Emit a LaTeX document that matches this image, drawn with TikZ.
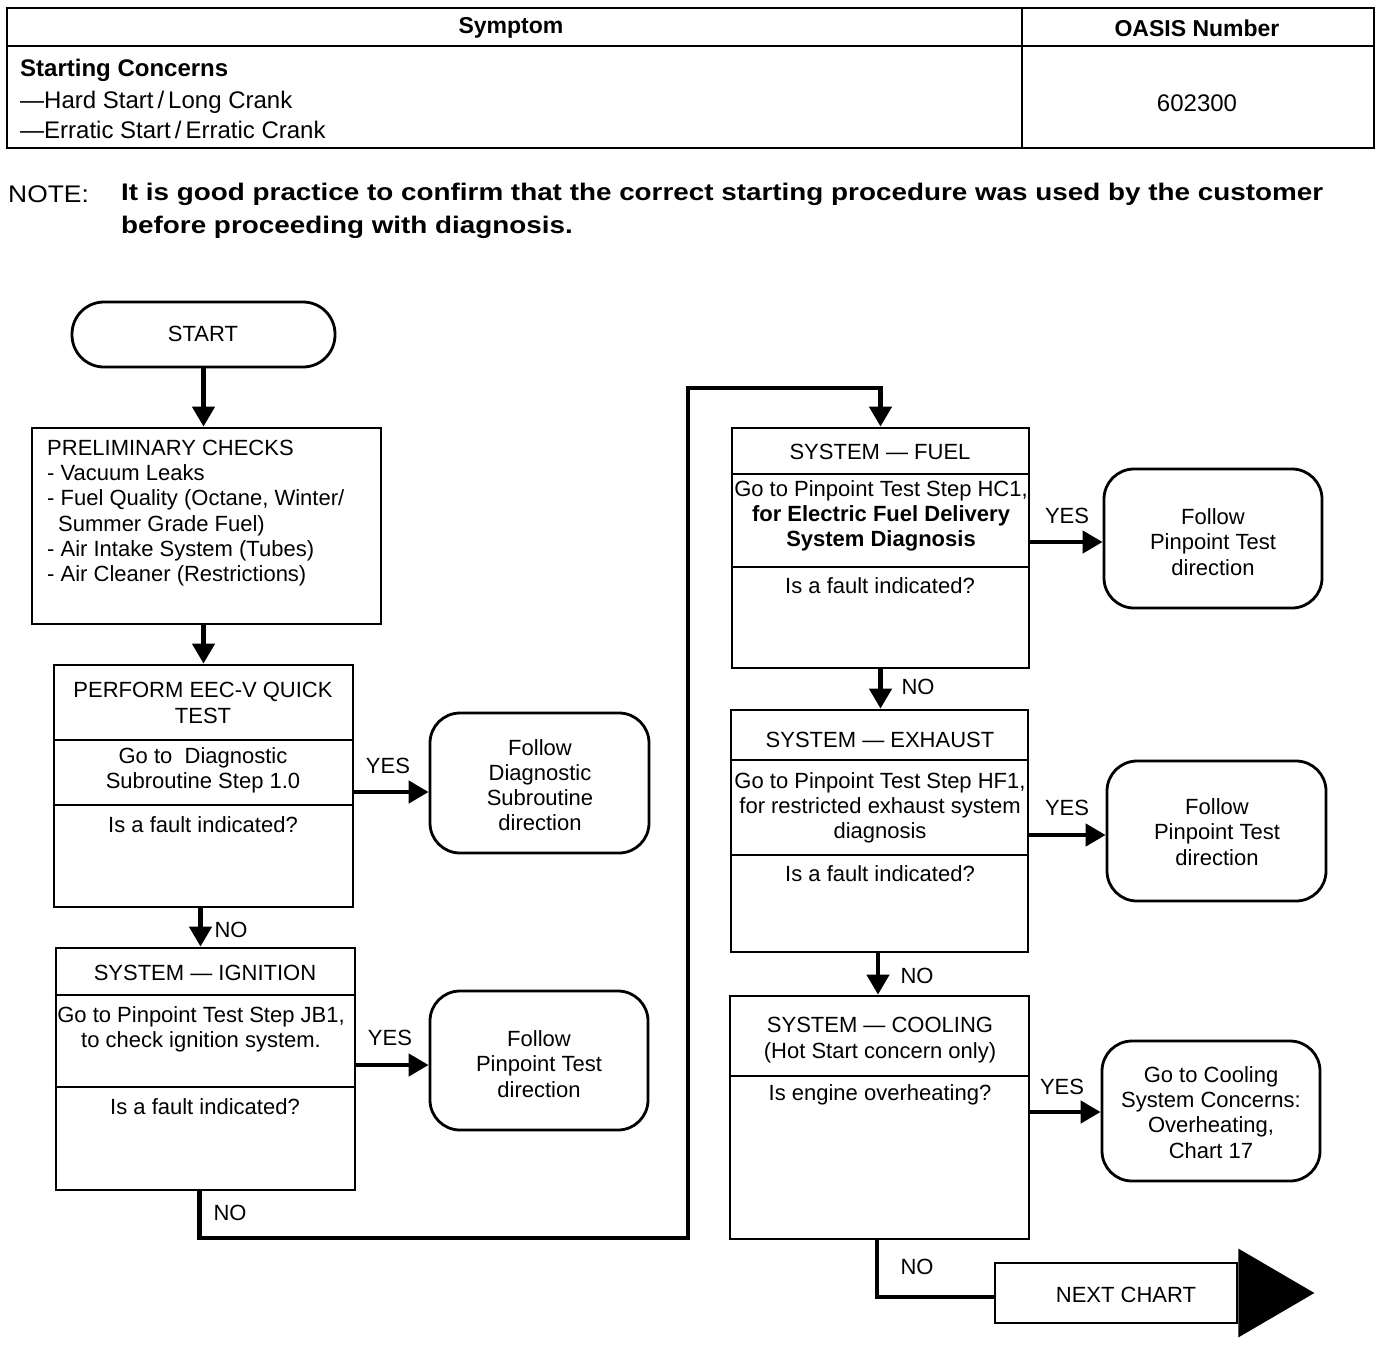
\documentclass[tikz,border=0pt]{standalone}
\usepackage{fontspec}
\setmainfont{Liberation Sans}
\newfontfamily\notereg[FakeStretch=1.1]{Liberation Sans}
\newfontfamily\notebold[FakeStretch=1.16]{Liberation Sans Bold}
\usepackage{tikz}
\usetikzlibrary{arrows.meta}

\newcommand{\boxfont}{\fontsize{22}{25.2}\selectfont}
\newcommand{\tablefont}{\fontsize{24}{28}\selectfont}
\newcommand{\headfont}{\fontsize{23}{28}\selectfont}
\newcommand{\notefont}{\fontsize{24}{33}\selectfont}

\tikzset{
  box/.style={draw, line width=2.8pt, inner sep=0pt},
  endbox/.style={draw, line width=2.8pt, inner sep=0pt, rounded corners=30pt},
  txt/.style={align=center, inner sep=0pt, font=\boxfont},
  lbl/.style={inner sep=0pt, font=\boxfont},
  cell/.style={inner sep=0pt, font=\tablefont},
  flow/.style={line width=4.5pt, -{Triangle[length=20pt,width=22pt]}},
  conn/.style={line width=4.5pt},
  divider/.style={line width=2.8pt},
}

\begin{document}
\begin{tikzpicture}[x=1pt, y=-1pt]
    \useasboundingbox (0,0) rectangle (1392,1344);

    % symptom table
    \draw[line width=2.8pt] (7,8) rectangle (1374,148);
    \draw[line width=2.8pt] (7,46) -- (1374,46);
    \draw[line width=2.8pt] (1022,8) -- (1022,148);
    \node[cell, font=\headfont\bfseries] (symhead) at (511,28) {Symptom};
    \node[cell, font=\headfont\bfseries] (oasishead) at (1197,28) {OASIS Number};
    \node[cell, font=\tablefont\bfseries, anchor=west] (concern) at (20,70) {Starting Concerns};
    \node[cell, anchor=west] (hard) at (20,102) {—Hard Start\,/\,Long Crank};
    \node[cell, anchor=west] (erratic) at (20,130) {—Erratic Start\,/\,Erratic Crank};
    \node[cell] (oasis) at (1197,103) {602300};

    % note
    \node[inner sep=0pt, font=\notefont\notereg, anchor=west] (notehead) at (8,194) {NOTE:};
    \node[inner sep=0pt, font=\notefont\notebold, align=left, anchor=north west] (notetext) at (121,183)
        {It is good practice to confirm that the correct starting procedure was used by the customer\\
         before proceeding with diagnosis.};

    % left column
    \node[endbox, rounded corners=32pt, minimum width=263pt, minimum height=65pt] (start) at (203.5,334.5) {};
    \node[txt] (starttext) at (203,334) {START};

    \node[box, minimum width=349pt, minimum height=196pt] (prelim) at (206.5,526) {};
    \node[txt, align=left, anchor=west] (prelimtext) at (47,513)
        {PRELIMINARY CHECKS\\
         - Vacuum Leaks\\
         - Fuel Quality (Octane, Winter/\\
         \hspace*{11pt}Summer Grade Fuel)\\
         - Air Intake System (Tubes)\\
         - Air Cleaner (Restrictions)};

    \node[box, minimum width=299pt, minimum height=242pt] (eec) at (203.5,786) {};
    \draw[divider] (eec.west |- 0,740) -- (eec.east |- 0,740);
    \draw[divider] (eec.west |- 0,805) -- (eec.east |- 0,805);
    \node[txt] (eectitle) at (203,703) {PERFORM EEC-V QUICK\\TEST};
    \node[txt] (eecgoto) at (203,770) {Go to~~Diagnostic\\Subroutine Step 1.0};
    \node[txt] (eecask) at (203,825) {Is a fault indicated?};

    \node[endbox, minimum width=219pt, minimum height=140pt] (fdiag) at (539.5,783) {};
    \node[txt] (fdiagtext) at (540,785) {Follow\\Diagnostic\\Subroutine\\direction};

    \node[box, minimum width=299pt, minimum height=242pt] (ign) at (205.5,1069) {};
    \draw[divider] (ign.west |- 0,995) -- (ign.east |- 0,995);
    \draw[divider] (ign.west |- 0,1087) -- (ign.east |- 0,1087);
    \node[txt] (igntitle) at (205,973) {SYSTEM — IGNITION};
    \node[txt] (igngoto) at (201,1029) {Go to Pinpoint Test Step JB1,\\to check ignition system.};
    \node[txt] (ignask) at (205,1107) {Is a fault indicated?};

    \node[endbox, minimum width=218pt, minimum height=139pt] (fpinign) at (539,1060.5) {};
    \node[txt] (fpinigntext) at (539,1064) {Follow\\Pinpoint Test\\direction};

    % right column
    \node[box, minimum width=297pt, minimum height=240pt] (fuel) at (880.5,548) {};
    \draw[divider] (fuel.west |- 0,474) -- (fuel.east |- 0,474);
    \draw[divider] (fuel.west |- 0,567) -- (fuel.east |- 0,567);
    \node[txt] (fueltitle) at (880,452) {SYSTEM — FUEL};
    \node[txt] (fuelgoto) at (881,516) {Go to Pinpoint Test Step HC1,\\\textbf{for Electric Fuel Delivery}\\\textbf{System Diagnosis}};
    \node[txt] (fuelask) at (880,586) {Is a fault indicated?};

    \node[endbox, minimum width=218pt, minimum height=139pt] (fpinfuel) at (1213,538.5) {};
    \node[txt] (fpinfueltext) at (1213,542) {Follow\\Pinpoint Test\\direction};

    \node[box, minimum width=297pt, minimum height=242pt] (exh) at (879.5,831) {};
    \draw[divider] (exh.west |- 0,760) -- (exh.east |- 0,760);
    \draw[divider] (exh.west |- 0,855) -- (exh.east |- 0,855);
    \node[txt] (exhtitle) at (880,740) {SYSTEM — EXHAUST};
    \node[txt] (exhgoto) at (880,808) {Go to Pinpoint Test Step HF1,\\for restricted exhaust system\\diagnosis};
    \node[txt] (exhask) at (880,874) {Is a fault indicated?};

    \node[endbox, minimum width=219pt, minimum height=140pt] (fpinexh) at (1216.5,831) {};
    \node[txt] (fpinexhtext) at (1217,832) {Follow\\Pinpoint Test\\direction};

    \node[box, minimum width=299pt, minimum height=243pt] (cool) at (879.5,1117.5) {};
    \draw[divider] (cool.west |- 0,1076) -- (cool.east |- 0,1076);
    \node[txt] (cooltitle) at (880,1040) {SYSTEM — COOLING\\(Hot Start concern only)};
    \node[txt] (coolask) at (880,1095) {Is engine overheating?};

    \node[endbox, minimum width=218pt, minimum height=140pt] (fcool) at (1211,1111) {};
    \node[txt] (fcooltext) at (1211,1112.5) {Go to Cooling\\System Concerns:\\Overheating,\\Chart 17};

    % next chart arrow
    \node[box, minimum width=242pt, minimum height=60pt] (next) at (1116,1293) {};
    \fill ([yshift=13pt]next.north east) -- ([xshift=76pt]next.east) -- ([yshift=-13pt]next.south east) -- cycle;
    \node[txt] (nexttext) at (1126,1295) {NEXT CHART};

    % connectors
    \coordinate (lowrun) at (688,1238);
    \coordinate (highrun) at (688,388);
    \draw[flow] (start.south) -- (start.south |- prelim.north);
    \draw[flow] (eec.north |- prelim.south) -- (eec.north);
    \draw[flow] ([yshift=-6pt]eec.east) -- ([yshift=-6pt]eec.east -| fdiag.west);
    \draw[flow] ([xshift=-3pt]eec.south) -- ([xshift=-3pt]eec.south |- ign.north);
    \draw[flow] ([yshift=4pt]ign.east) -- ([yshift=4pt]ign.east -| fpinign.west);
    \draw[flow] ([xshift=-6pt]ign.south) |- (lowrun) -- (highrun) -| (fuel.north);
    \draw[flow] ([yshift=6pt]fuel.east) -- ([yshift=6pt]fuel.east -| fpinfuel.west);
    \draw[flow] (fuel.south) -- (fuel.south |- exh.north);
    \draw[flow] ([yshift=-4pt]exh.east) -- ([yshift=-4pt]exh.east -| fpinexh.west);
    \draw[flow] ([xshift=-1.5pt]exh.south) -- ([xshift=-1.5pt]exh.south |- cool.north);
    \draw[flow] ([yshift=5.5pt]cool.east) -- ([yshift=5.5pt]cool.east -| fcool.west);
    \draw[conn] ([xshift=-2.5pt]cool.south) |- ([yshift=-4pt]next.west);

    % yes / no labels
    \node[lbl] (yes1) at (388,766) {YES};
    \node[lbl] (no1) at (231,930) {NO};
    \node[lbl] (yes2) at (390,1038) {YES};
    \node[lbl] (no2) at (230,1213) {NO};
    \node[lbl] (yes3) at (1067,516) {YES};
    \node[lbl] (no3) at (918,687) {NO};
    \node[lbl] (yes4) at (1067,808) {YES};
    \node[lbl] (no4) at (917,976) {NO};
    \node[lbl] (yes5) at (1062,1087) {YES};
    \node[lbl] (no5) at (917,1267) {NO};
\end{tikzpicture}
\end{document}
